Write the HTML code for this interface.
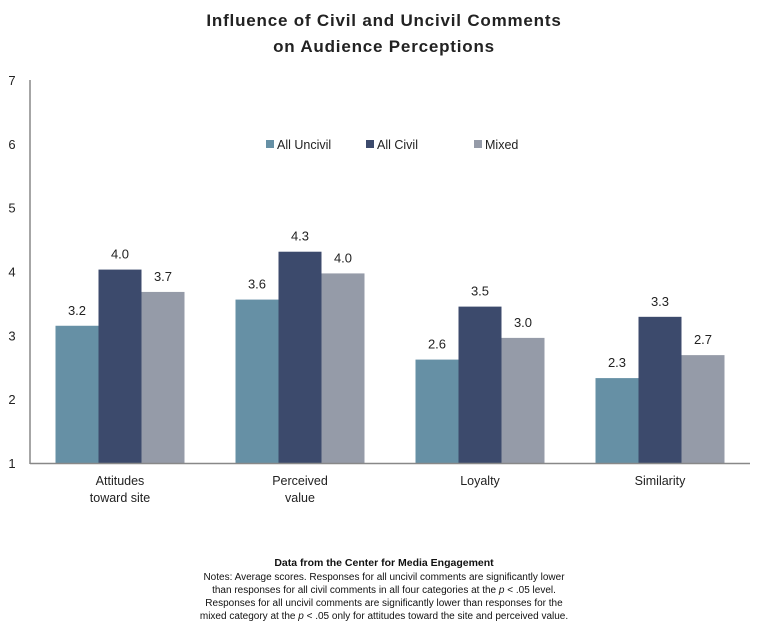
<!DOCTYPE html>
<html><head><meta charset="utf-8"><style>
body{margin:0;background:#fff;width:768px;height:634px;overflow:hidden;font-family:"Liberation Sans",sans-serif}
</style></head><body>
<svg width="768" height="634">
<text x="384" y="26" text-anchor="middle" font-size="17" font-weight="bold" fill="#222" letter-spacing="0.8">Influence of Civil and Uncivil Comments</text>
<text x="384" y="52" text-anchor="middle" font-size="17" font-weight="bold" fill="#222" letter-spacing="0.8">on Audience Perceptions</text>
<g id="plot"></g>
<g>
<rect x="266" y="140" width="8" height="8" fill="#6690a5"/>
<text x="277" y="149" font-size="12.5" fill="#222">All Uncivil</text>
<rect x="366" y="140" width="8" height="8" fill="#3c4a6c"/>
<text x="377" y="149" font-size="12.5" fill="#222">All Civil</text>
<rect x="474" y="140" width="8" height="8" fill="#959ba8"/>
<text x="485" y="149" font-size="12.5" fill="#222">Mixed</text>
</g>
<text x="384" y="566" text-anchor="middle" font-size="10.5" font-weight="bold" fill="#111">Data from the Center for Media Engagement</text>
<g font-size="10" fill="#111" text-anchor="middle">
<text x="384" y="580">Notes: Average scores. Responses for all uncivil comments are significantly lower</text>
<text x="384" y="593">than responses for all civil comments in all four categories at the <tspan font-style="italic">p</tspan> &lt; .05 level.</text>
<text x="384" y="606">Responses for all uncivil comments are significantly lower than responses for the</text>
<text x="384" y="619">mixed category at the <tspan font-style="italic">p</tspan> &lt; .05 only for attitudes toward the site and perceived value.</text>
</g>
</svg>
<script>
const categories=[["Attitudes","toward site"],["Perceived","value"],["Loyalty"],["Similarity"]];
const uncivil=[3.15,3.56,2.62,2.33];
const civil=[4.03,4.31,3.45,3.29];
const mixed=[3.68,3.97,2.96,2.69];
const labelsUncivil=["3.2","3.6","2.6","2.3"];
const labelsCivil=["4.0","4.3","3.5","3.3"];
const labelsMixed=["3.7","4.0","3.0","2.7"];
const yTicks=[1,2,3,4,5,6,7];
const NS="http://www.w3.org/2000/svg";
const g=document.getElementById('plot');
const x0=30,x1=750,yTop=80,yBot=463;
const y=v=>yBot-(v-1)/6*(yBot-yTop);
const gw=(x1-x0)/categories.length;
function mk(t,a,txt){const e=document.createElementNS(NS,t);for(const k in a)e.setAttribute(k,a[k]);if(txt!=null)e.textContent=txt;g.appendChild(e);return e;}
yTicks.forEach(t=>{const e=mk('text',{x:12,y:y(t)+5,'font-size':13,fill:'#222','text-anchor':'middle'},t);

});
const series=[[uncivil,'#6690a5',labelsUncivil,'uncivil'],[civil,'#3c4a6c',labelsCivil,'civil'],[mixed,'#959ba8',labelsMixed,'mixed']];
const bw=43;
categories.forEach((c,i)=>{const cx=x0+gw*(i+0.5);
series.forEach((s,j)=>{const bx=cx-1.5*bw+j*bw;const v=s[0][i];
const r=mk('rect',{x:bx,y:y(v),width:bw,height:yBot-y(v),fill:s[1]});


const l=mk('text',{x:bx+bw/2,y:y(v)-11,'font-size':13,fill:'#222','text-anchor':'middle'},s[2][i]);

});
c.forEach((ln,k)=>{const t=mk('text',{x:cx,y:485+k*17,'font-size':12.5,fill:'#222','text-anchor':'middle'},ln);

});});
const ax=mk('line',{x1:x0,y1:yTop,x2:x0,y2:yBot+1,stroke:'#888','stroke-width':1.5});


const bx=mk('line',{x1:x0,y1:yBot+0.5,x2:x1,y2:yBot+0.5,stroke:'#888','stroke-width':1.5});


</script>
</body></html>
